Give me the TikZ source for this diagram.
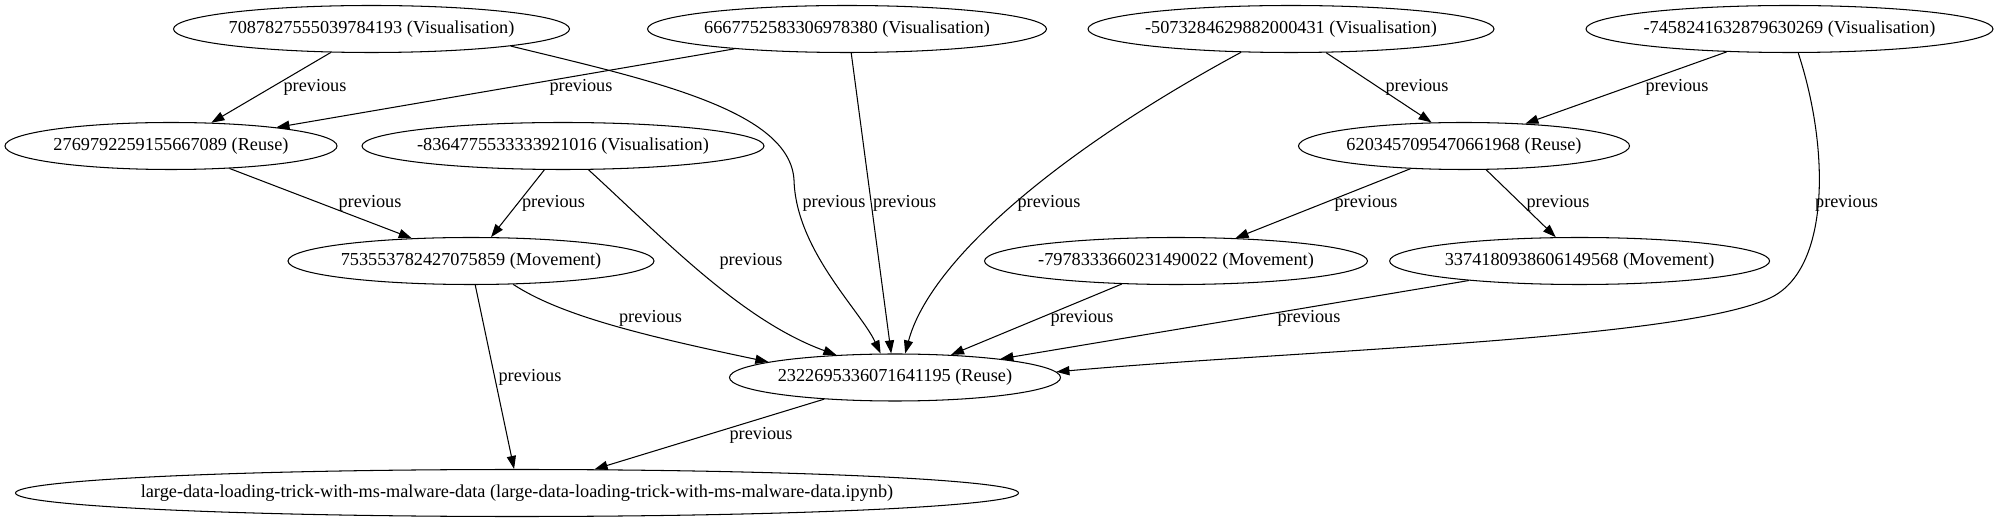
\documentclass[tikz,border=0pt]{standalone}
\usepackage{fontspec}
\setmainfont{Liberation Serif}
\usetikzlibrary{shapes.geometric,arrows.meta}
\begin{document}
\begin{tikzpicture}[x=0.766pt,y=-0.766pt,
  txt/.style={inner sep=0pt, font=\fontsize{14pt}{16pt}\selectfont},
  gnode/.style={ellipse, draw, line width=0.8pt, inner sep=0pt, minimum height=47*0.766pt, label={[txt]center:#1}},
  elabel/.style={txt},
  conn/.style={draw, line width=0.8pt, -{Triangle[length=10pt,width=7pt]}}]
\useasboundingbox (0,0) rectangle (1997,523);
% nodes
\node[gnode={7087827555039784193 (Visualisation)}, minimum width=396*0.766pt] (n1) at (371.5,29) {};
\node[gnode={6667752583306978380 (Visualisation)}, minimum width=399*0.766pt] (n2) at (847,29) {};
\node[gnode={-5073284629882000431 (Visualisation)}, minimum width=406*0.766pt] (n3) at (1291,29) {};
\node[gnode={-7458241632879630269 (Visualisation)}, minimum width=407*0.766pt] (n4) at (1789.5,29) {};
\node[gnode={2769792259155667089 (Reuse)}, minimum width=332*0.766pt] (n5) at (171,146) {};
\node[gnode={-8364775533333921016 (Visualisation)}, minimum width=402*0.766pt] (n6) at (563,146) {};
\node[gnode={6203457095470661968 (Reuse)}, minimum width=331*0.766pt] (n7) at (1464,146) {};
\node[gnode={753553782427075859 (Movement)}, minimum width=366*0.766pt] (n8) at (471,261) {};
\node[gnode={-7978333660231490022 (Movement)}, minimum width=383*0.766pt] (n9) at (1176,261) {};
\node[gnode={3374180938606149568 (Movement)}, minimum width=380*0.766pt] (n10) at (1579.6,261) {};
\node[gnode={2322695336071641195 (Reuse)}, minimum width=331*0.766pt] (n11) at (895,377.5) {};
\node[gnode={large-data-loading-trick-with-ms-malware-data (large-data-loading-trick-with-ms-malware-data.ipynb)}, minimum width=1003*0.766pt] (n12) at (517,493) {};
% bend points
\coordinate (b1) at (794,180);
\coordinate (b4) at (1770,298);
% edges
\draw[conn] (n1.210.65) -- (n5.30.3);
\draw[conn] (n2.190.27) -- (n5.10.3);
\draw[conn] (n1.-7) .. controls (650,80) and (790,110) .. (b1) .. controls (796,250) and (860,310) .. (n11.121.5);
\draw[conn] (n2.-80.5) -- (n11.99.3);
\draw[conn] (n3.205.2) .. controls (1060,150) and (930,260) .. (n11.67.8);
\draw[conn] (n3.-34.75) -- (n7.144.4);
\draw[conn] (n4.200.94) -- (n7.20.6);
\draw[conn] (n4.-70.5) .. controls (1830,150) and (1830,270) .. (b4) .. controls (1680,340) and (1300,350) .. (n11.2.67);
\draw[conn] (n5.-21.8) -- (n8.159);
\draw[conn] (n6.-128.1) -- (n8.50.2);
\draw[conn] (n6.-43.8) .. controls (660,235) and (740,320) .. (n11.159.5);
\draw[conn] (n7.-157.9) -- (n9.21.3);
\draw[conn] (n7.-47.5) -- (n10.135.4);
\draw[conn] (n8.-29.5) .. controls (560,315) and (640,335) .. (n11.173);
\draw[conn] (n8.-80.5) -- (n12.97.1);
\draw[conn] (n9.-157) -- (n11.22.1);
\draw[conn] (n10.190.6) -- (n11.10.2);
\draw[conn] (n11.197.6) -- (n12.17.6);
% labels
\node[elabel] (l1) at (315,87) {previous};
\node[elabel] (l2) at (581,87) {previous};
\node[elabel] (l3) at (1417,87) {previous};
\node[elabel] (l4) at (1677,87) {previous};
\node[elabel] (l5) at (370,203) {previous};
\node[elabel] (l6) at (553.5,203) {previous};
\node[elabel] (l7) at (834,203) {previous};
\node[elabel] (l8) at (904.7,203) {previous};
\node[elabel] (l9) at (1049,203) {previous};
\node[elabel] (l10) at (1366,203) {previous};
\node[elabel] (l11) at (1558,203) {previous};
\node[elabel] (l12) at (1846.6,203) {previous};
\node[elabel] (l13) at (751,261) {previous};
\node[elabel] (l14) at (650.5,318) {previous};
\node[elabel] (l15) at (1082,318) {previous};
\node[elabel] (l16) at (1309,318) {previous};
\node[elabel] (l17) at (530,377) {previous};
\node[elabel] (l18) at (761,435) {previous};
\end{tikzpicture}
\end{document}
